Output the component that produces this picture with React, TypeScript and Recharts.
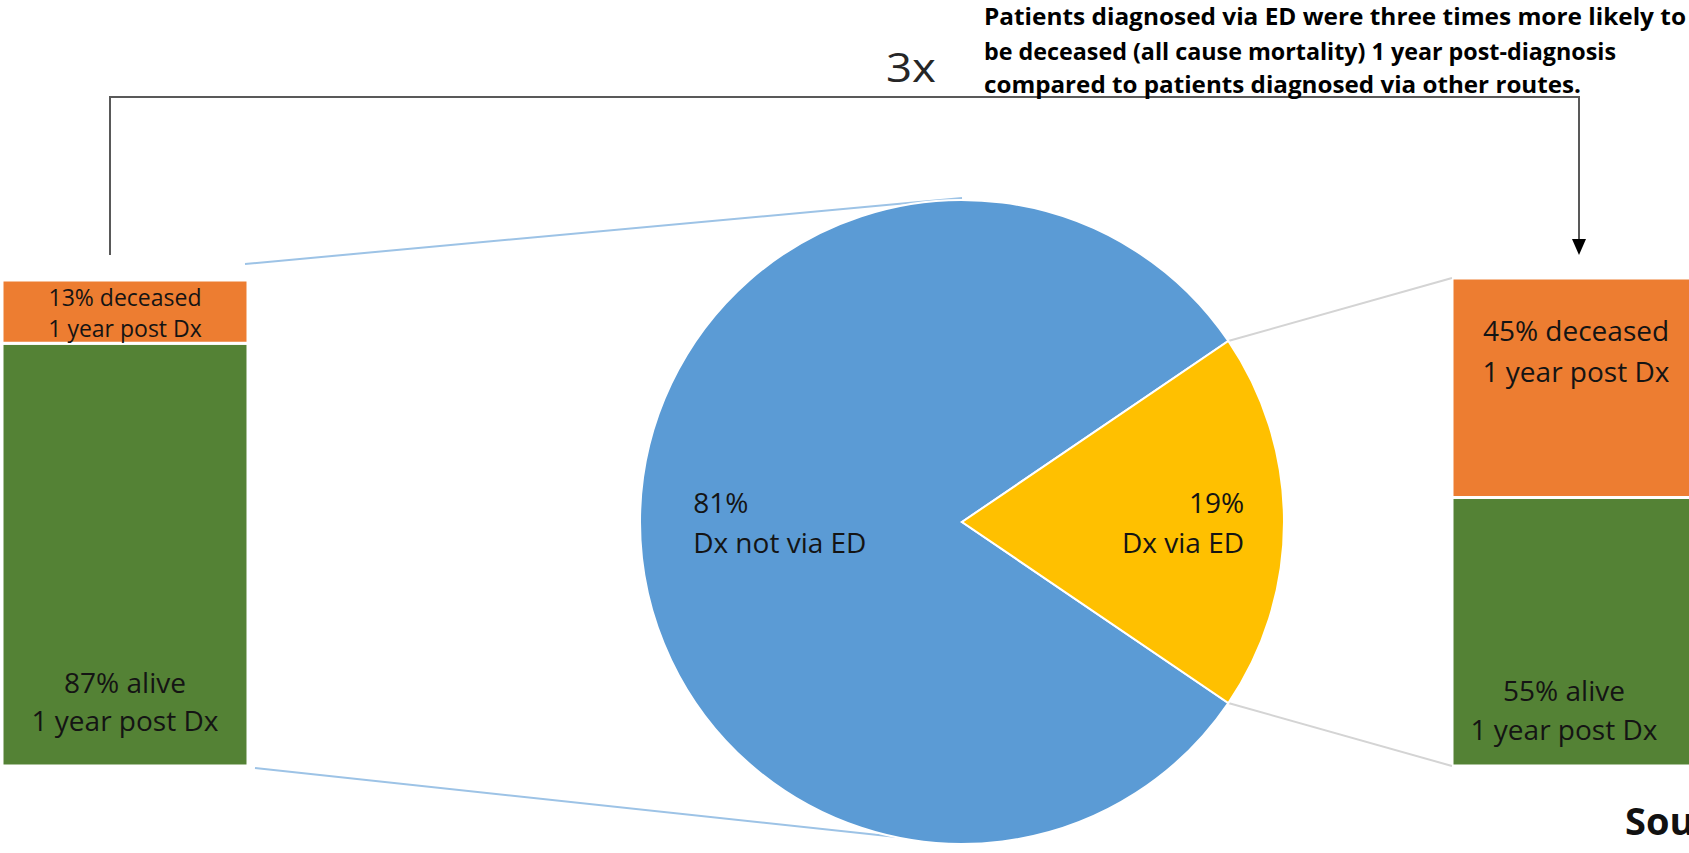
import React from 'react';
import { PieChart, Pie, Cell, BarChart, Bar, XAxis, YAxis, LabelList } from 'recharts';

// ---------------- data ----------------
const pieCategories = ['Dx not via ED', 'Dx via ED'];
const pieValues = [81, 19];
const pieColors = ['#5b9bd5', '#ffc000'];

const outcomes = ['alive', 'deceased'];
const notViaEdValues = [87, 13];
const viaEdValues = [55, 45];
const outcomeColors = ['#548235', '#ed7d31'];
const subLabel = '1 year post Dx';

const multiplierText = '3x';
const annotationLines = [
  'Patients diagnosed via ED were three times more likely to',
  'be deceased (all cause mortality) 1 year post-diagnosis',
  'compared to patients diagnosed via other routes.',
];
const sourceText = 'Source:';

// ---------------- layout ----------------
const W = 1689;
const H = 853;
const FONT = "'Segoe UI', 'Open Sans', 'Noto Sans', sans-serif";
const TEXT = '#141414';
const LABEL_SIZE = 28;
const PIE = { cx: 962, cy: 522, r: 322 };
const LEFT_BAR = { x: 2, y: 280, w: 246, h: 486 };
const RIGHT_BAR = { x: 1452, y: 278, w: 300, h: 488 };

type LabelCfg = { mode: 'top' | 'bottom'; first: number; gap: number; dx: number; size?: number };

const makeBarLabel = (lines: string[], cfg: LabelCfg) => (props: any) => {
  const x = Number(props.x);
  const y = Number(props.y);
  const h = Number(props.height);
  const y0 = cfg.mode === 'top' ? y + cfg.first : y + h + cfg.first;
  const cxText = x + cfg.dx;
  return (
    <g>
      {lines.map((t, i) => (
        <text
          key={i}
          x={cxText}
          y={y0 + i * cfg.gap}
          textAnchor="middle"
          dominantBaseline="central"
          fontSize={cfg.size ?? LABEL_SIZE}
          fontFamily={FONT}
          fill={TEXT}
        >
          {t}
        </text>
      ))}
    </g>
  );
};

function OutcomeBar({
  box,
  values,
  labelCfg,
}: {
  box: { x: number; y: number; w: number; h: number };
  values: number[];
  labelCfg: LabelCfg[];
}) {
  const row: any = { name: 'group' };
  outcomes.forEach((o, i) => (row[o] = values[i]));
  const data = [row];
  return (
    <div style={{ position: 'absolute', left: box.x, top: box.y, width: box.w, height: box.h }}>
      <BarChart
        width={box.w}
        height={box.h}
        data={data}
        margin={{ top: 0, right: 0, bottom: 0, left: 0 }}
        barCategoryGap={0}
        barGap={0}
      >
        <XAxis dataKey="name" type="category" hide />
        <YAxis type="number" domain={[0, 100]} hide />
        {outcomes.map((o, i) => (
          <Bar
            key={o}
            dataKey={o}
            stackId="s"
            fill={outcomeColors[i]}
            stroke="#ffffff"
            strokeWidth={3}
            isAnimationActive={false}
          >
            <LabelList
              dataKey={o}
              content={makeBarLabel([`${values[i]}% ${o}`, subLabel], labelCfg[i])}
            />
          </Bar>
        ))}
      </BarChart>
    </div>
  );
}

const renderPieLabel = (p: any) => {
  const cx = Number(p.cx ?? PIE.cx);
  const cy = Number(p.cy ?? PIE.cy);
  const r = Number(p.outerRadius ?? PIE.r);
  const idx = p.index;
  const left = idx === 0;
  const x = left ? cx - r * 0.835 : cx + r * 0.876;
  const anchor = left ? 'start' : 'end';
  return (
    <g>
      <text x={x} y={cy - 20} textAnchor={anchor} dominantBaseline="central" fontSize={LABEL_SIZE} fontFamily={FONT} fill={TEXT}>
        {`${pieValues[idx]}%`}
      </text>
      <text x={x} y={cy + 20} textAnchor={anchor} dominantBaseline="central" fontSize={LABEL_SIZE} fontFamily={FONT} fill={TEXT}>
        {pieCategories[idx]}
      </text>
    </g>
  );
};

export default function App() {
  const pieData = pieCategories.map((c, i) => ({ name: c, value: pieValues[i] }));
  const total = pieValues.reduce((a, b) => a + b, 0);
  const half = (pieValues[1] / total) * 180;
  const rad = (half * Math.PI) / 180;
  const edgeTop = { x: PIE.cx + PIE.r * Math.cos(rad), y: PIE.cy - PIE.r * Math.sin(rad) };
  const edgeBot = { x: PIE.cx + PIE.r * Math.cos(rad), y: PIE.cy + PIE.r * Math.sin(rad) };

  const bracketY = 97;
  const bracketLeftX = 110;
  const bracketRightX = 1579;
  const arrowTip = 255;

  return (
    <div
      style={{
        position: 'absolute',
        left: 0,
        top: 0,
        width: W,
        height: H,
        overflow: 'hidden',
        background: '#ffffff',
        fontFamily: FONT,
      }}
    >
      {/* connector lines */}
      <svg width={W} height={H} style={{ position: 'absolute', left: 0, top: 0 }}>
        <line x1={LEFT_BAR.x + LEFT_BAR.w - 3} y1={LEFT_BAR.y - 16} x2={PIE.cx} y2={PIE.cy - PIE.r - 2} stroke="#9dc3e6" strokeWidth={2} />
        <line x1={LEFT_BAR.x + LEFT_BAR.w + 7} y1={LEFT_BAR.y + LEFT_BAR.h + 2} x2={PIE.cx} y2={PIE.cy + PIE.r} stroke="#9dc3e6" strokeWidth={2} />
        <line x1={edgeTop.x} y1={edgeTop.y} x2={RIGHT_BAR.x} y2={RIGHT_BAR.y} stroke="#d4d4d4" strokeWidth={2} />
        <line x1={edgeBot.x} y1={edgeBot.y} x2={RIGHT_BAR.x} y2={RIGHT_BAR.y + RIGHT_BAR.h} stroke="#d4d4d4" strokeWidth={2} />
      </svg>

      {/* pie */}
      <div style={{ position: 'absolute', left: 0, top: 0, width: W, height: H }}>
        <PieChart width={W} height={H} margin={{ top: 0, right: 0, bottom: 0, left: 0 }}>
          <Pie
            data={pieData}
            dataKey="value"
            nameKey="name"
            cx={PIE.cx}
            cy={PIE.cy}
            outerRadius={PIE.r}
            startAngle={half}
            endAngle={half + 360}
            stroke="#ffffff"
            strokeWidth={2}
            label={renderPieLabel}
            labelLine={false}
            isAnimationActive={false}
          >
            {pieData.map((d, i) => (
              <Cell key={d.name} fill={pieColors[i]} />
            ))}
          </Pie>
        </PieChart>
      </div>

      {/* bars */}
      <OutcomeBar
        box={LEFT_BAR}
        values={notViaEdValues}
        labelCfg={[
          { mode: 'bottom', first: -84, gap: 38, dx: LEFT_BAR.w / 2 },
          { mode: 'top', first: 17, gap: 31, dx: LEFT_BAR.w / 2, size: 23 },
        ]}
      />
      <OutcomeBar
        box={RIGHT_BAR}
        values={viaEdValues}
        labelCfg={[
          { mode: 'bottom', first: -76, gap: 39, dx: 112 },
          { mode: 'top', first: 52, gap: 41, dx: 124 },
        ]}
      />

      {/* annotation overlay */}
      <svg width={W} height={H} style={{ position: 'absolute', left: 0, top: 0 }}>
        <polyline
          points={`${bracketLeftX},${LEFT_BAR.y - 25} ${bracketLeftX},${bracketY} ${bracketRightX},${bracketY} ${bracketRightX},${arrowTip - 14}`}
          fill="none"
          stroke="#595959"
          strokeWidth={2}
        />
        <polygon
          points={`${bracketRightX - 7},${arrowTip - 16} ${bracketRightX + 7},${arrowTip - 16} ${bracketRightX},${arrowTip}`}
          fill="#000000"
        />
        <text x={886} y={82} fontSize={40} fontFamily={FONT} fill="#262626" textLength={50} lengthAdjust="spacingAndGlyphs">
          {multiplierText}
        </text>
        {annotationLines.map((t, i) => (
          <text
            key={i}
            x={984}
            y={[25, 60, 93][i]}
            fontSize={24}
            fontWeight={700}
            fontFamily={FONT}
            fill="#000000"
            textLength={[702, 632, 597][i]}
            lengthAdjust="spacingAndGlyphs"
          >
            {t}
          </text>
        ))}
        <text x={1625} y={835} fontSize={38} fontWeight={700} fontFamily={FONT} fill="#111111">
          {sourceText}
        </text>
      </svg>
    </div>
  );
}
